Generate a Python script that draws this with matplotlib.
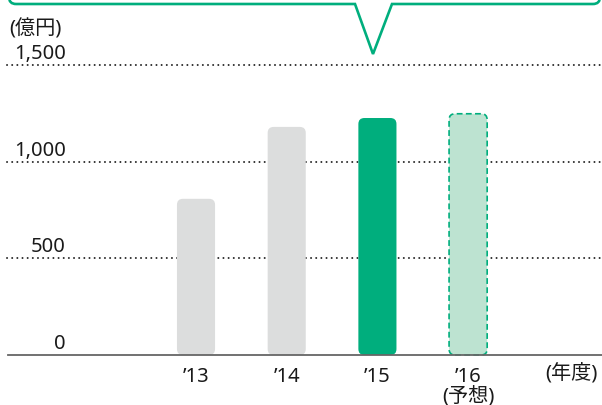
import matplotlib
matplotlib.use('Agg')
import matplotlib.pyplot as plt
from matplotlib.patches import FancyBboxPatch, PathPatch
from matplotlib.path import Path

plt.rcParams['font.family'] = ['Noto Sans', 'Noto Sans CJK JP', 'DejaVu Sans']

# data (億円)
years = ['’13', '’14', '’15', '’16']
values = [808, 1180, 1226, 1248]
forecast = [False, False, False, True]
highlight = [False, False, True, False]
yticks = [0, 500, 1000, 1500]
ytick_labels = ['0', '500', '1,000', '1,500']

W, H = 602, 406
fig = plt.figure(figsize=(W / 100, H / 100), dpi=100)
ax = fig.add_axes([0, 0, 1, 1])
x0, x1 = -2.161, 4.476
y0, y1 = -258.7, 1841.7
ax.set_xlim(x0, x1)
ax.set_ylim(y0, y1)
ax.axis('off')

green = '#00ae7d'
gray = '#dcdddd'
light = '#bde3d1'
txt = '#1a1a1a'

# data units per pixel (for round corners and offsets)
xu = (x1 - x0) / W
yu = (y1 - y0) / H
bw = 0.42
r = 6 * xu

# dotted grid lines
for v in yticks[1:]:
    ax.plot([x0 + 7 * xu, x1], [v, v], color='#222222', lw=1.4,
            linestyle=(0, (0.05, 2.6)), dash_capstyle='round', zorder=1)

# bars
for i, (v, fc, hl) in enumerate(zip(values, forecast, highlight)):
    if fc:
        face, edge, ls, lw = light, green, (0, (3.5, 2)), 1.2
    elif hl:
        face, edge, ls, lw = green, 'none', '-', 0
    else:
        face, edge, ls, lw = gray, 'none', '-', 0
    p = FancyBboxPatch((i - bw / 2, 0), bw, v,
                       boxstyle=f'round,pad=0,rounding_size={r}',
                       mutation_aspect=yu / xu,
                       facecolor=face, edgecolor=edge, linestyle=ls,
                       linewidth=lw, zorder=2)
    ax.add_patch(p)

# baseline
ax.plot([x0 + 8 * xu, x1], [0, 0], color='#666666', lw=1.3, zorder=3)

# y labels
fs = 14.5
ylab_x = x0 + 66 * xu
for v, s in zip(yticks, ytick_labels):
    ax.text(ylab_x, v + 7 * yu, s, ha='right', va='baseline', fontsize=fs,
            color=txt)
ax.text(x0 + 9 * xu, 1500 + 32 * yu, '(億円)', ha='left', va='baseline',
        fontsize=fs, color=txt)

# x labels
for i, s in enumerate(years):
    ax.text(i, -26 * yu, s, ha='center', va='baseline', fontsize=fs, color=txt)
ax.text(3, -46 * yu, '(予想)', ha='center', va='baseline', fontsize=fs, color=txt)
ax.text(x0 + 598 * xu, -23 * yu, '(年度)', ha='right', va='baseline',
        fontsize=fs, color=txt)

# callout frame at the top
def fp(x, y):
    return (x / W, 1 - y / H)

rc = 7
verts = [fp(9, -10), fp(9, 5 - rc), fp(9, 5), fp(9 + rc, 5),
         fp(355, 5), fp(373, 55), fp(392, 5),
         fp(600 - rc, 5), fp(600, 5), fp(600, 5 - rc), fp(600, -10)]
codes = [Path.MOVETO, Path.LINETO, Path.CURVE3, Path.CURVE3,
         Path.LINETO, Path.LINETO, Path.LINETO,
         Path.LINETO, Path.CURVE3, Path.CURVE3, Path.LINETO]
frame = PathPatch(Path(verts, codes), facecolor='none', edgecolor=green,
                  lw=1.9, transform=fig.transFigure, joinstyle='miter')
fig.patches.append(frame)

fig.savefig('out.png', dpi=100)
